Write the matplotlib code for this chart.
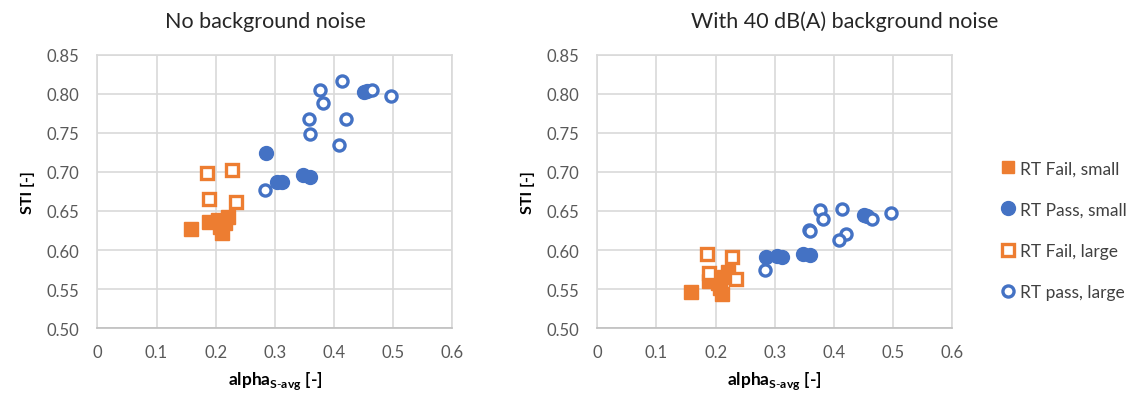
import matplotlib
matplotlib.use("Agg")
import matplotlib.pyplot as plt
from matplotlib.lines import Line2D

plt.rcParams['font.family'] = ['Lato', 'DejaVu Sans']
plt.rcParams['mathtext.fontset'] = 'custom'
plt.rcParams['mathtext.bf'] = 'Lato:bold'
plt.rcParams['mathtext.rm'] = 'Lato'

orange = '#ED7D31'
blue = '#4472C4'
grid_col = '#D9D9D9'
tick_col = '#595959'

# No background noise
fail_small_x = [0.158, 0.188, 0.204, 0.207, 0.210, 0.221, 0.215]
fail_small_y = [0.627, 0.636, 0.638, 0.630, 0.622, 0.642, 0.635]
fail_large_x = [0.185, 0.228, 0.189, 0.235]
fail_large_y = [0.699, 0.703, 0.665, 0.661]
pass_small_x = [0.285, 0.303, 0.312, 0.348, 0.359, 0.450, 0.456]
pass_small_y = [0.724, 0.687, 0.687, 0.696, 0.694, 0.802, 0.803]
pass_large_x = [0.414, 0.376, 0.465, 0.497, 0.382, 0.358, 0.421, 0.360, 0.409, 0.283]
pass_large_y = [0.816, 0.805, 0.805, 0.797, 0.788, 0.768, 0.768, 0.749, 0.735, 0.677]

# With 40 dB(A) background noise
fail_small_y_bg = [0.546, 0.560, 0.558, 0.552, 0.544, 0.572, 0.565]
fail_large_y_bg = [0.595, 0.591, 0.571, 0.563]
pass_small_y_bg = [0.591, 0.592, 0.591, 0.595, 0.594, 0.645, 0.643]
pass_large_y_bg = [0.653, 0.651, 0.640, 0.648, 0.640, 0.626, 0.620, 0.624, 0.613, 0.574]

titles = ['No background noise', 'With 40 dB(A) background noise']
labels = ['RT Fail, small', 'RT Pass, small', 'RT Fail, large', 'RT pass, large']

fig = plt.figure(figsize=(11.48, 4.02), dpi=100)
ax1 = fig.add_axes([0.0848, 0.181, 0.3092, 0.6806])
ax2 = fig.add_axes([0.5203, 0.181, 0.3092, 0.6806])

sets = [
    (fail_small_y, fail_large_y, pass_small_y, pass_large_y),
    (fail_small_y_bg, fail_large_y_bg, pass_small_y_bg, pass_large_y_bg),
]

for ax, (fs, fl, ps, pl) in zip([ax1, ax2], sets):
    ax.plot(fail_small_x, fs, 's', color=orange, ms=9.5, ls='none', zorder=3)
    ax.plot(pass_small_x, ps, 'o', color=blue, ms=10, ls='none', zorder=3)
    ax.plot(fail_large_x, fl, 's', mfc='white', mec=orange, mew=2.4, ms=9, ls='none', zorder=3)
    ax.plot(pass_large_x, pl, 'o', mfc='white', mec=blue, mew=2.4, ms=8, ls='none', zorder=3)
    ax.set_xlim(0, 0.6)
    ax.set_ylim(0.5, 0.85)
    ax.set_xticks([0, 0.1, 0.2, 0.3, 0.4, 0.5, 0.6])
    ax.set_xticklabels(['0', '0.1', '0.2', '0.3', '0.4', '0.5', '0.6'])
    ax.set_yticks([0.5, 0.55, 0.6, 0.65, 0.7, 0.75, 0.8, 0.85])
    ax.set_yticklabels(['0.50', '0.55', '0.60', '0.65', '0.70', '0.75', '0.80', '0.85'])
    ax.grid(True, color=grid_col, lw=1.2)
    ax.set_axisbelow(True)
    for s in ax.spines.values():
        s.set_color(grid_col)
        s.set_linewidth(1.2)
    ax.spines['bottom'].set_color('#BFBFBF')
    ax.tick_params(axis='y', length=0, labelsize=12, colors=tick_col, pad=13)
    ax.tick_params(axis='x', length=0, labelsize=12, colors=tick_col, pad=11)
    ax.set_ylabel('STI [-]', fontsize=11.5, fontweight='bold', labelpad=8)
    ax.set_xlabel('alpha$_{\\mathbf{S\\text{-}avg}}$ [-]',
                  fontsize=12.5, fontweight='bold', labelpad=7)

fig.text(0.231, 0.945, titles[0], fontsize=15.5, ha='center', va='center', color='#262626')
fig.text(0.736, 0.945, titles[1], fontsize=15.5, ha='center', va='center', color='#262626')

handles = [
    Line2D([], [], marker='s', color=orange, ls='none', ms=9),
    Line2D([], [], marker='o', color=blue, ls='none', ms=10),
    Line2D([], [], marker='s', mfc='white', mec=orange, mew=2.4, ls='none', ms=9),
    Line2D([], [], marker='o', mfc='white', mec=blue, mew=2.4, ls='none', ms=8),
]
fig.legend(handles, labels, loc='center left', bbox_to_anchor=(0.855, 0.425), frameon=False,
           fontsize=12.5, labelspacing=1.45, handletextpad=0.1, handlelength=1.2,
           labelcolor='#404040')

fig.savefig('out.png', dpi=100)
